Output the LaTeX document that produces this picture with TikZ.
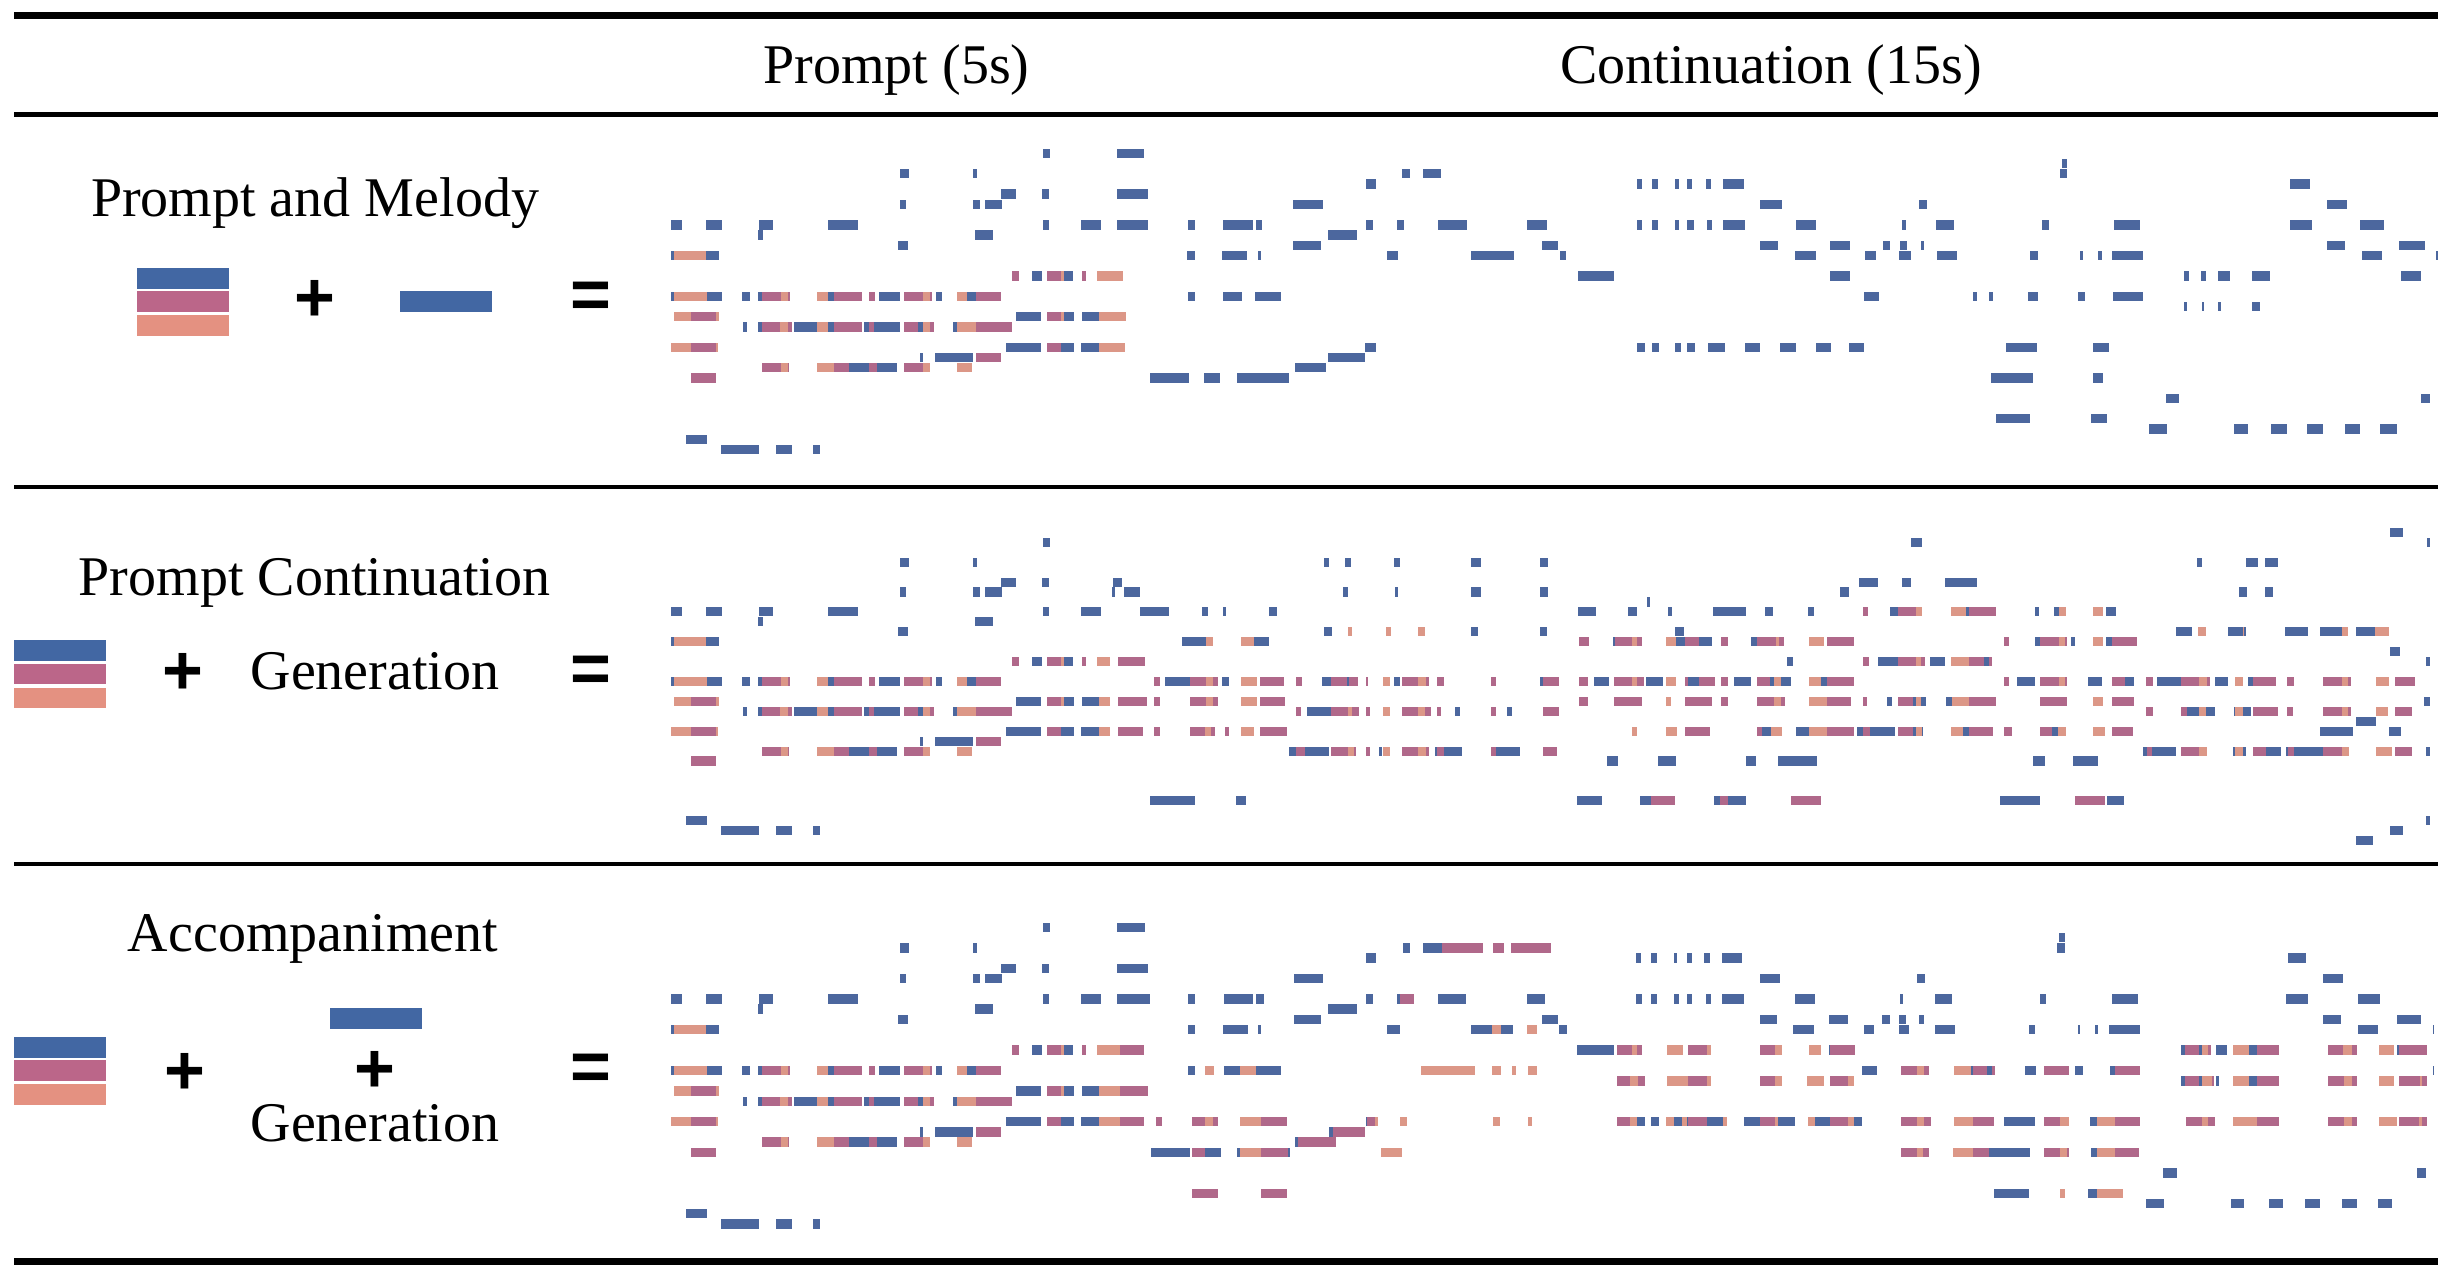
\documentclass[tikz,border=0pt]{standalone}
\usepackage{fontspec}
\setmainfont{Liberation Serif}
\newfontfamily\signfont{Liberation Sans}
\usepackage{tikz}

\definecolor{rollblue}{HTML}{4C679E}
\definecolor{rollmag}{HTML}{B0688A}
\definecolor{rollsal}{HTML}{DC9787}
\definecolor{keyblue}{HTML}{4267A3}
\definecolor{keymag}{HTML}{BB6689}
\definecolor{keysal}{HTML}{E49181}

\tikzset{
  nb/.style={fill=rollblue},
  nm/.style={fill=rollmag},
  ns/.style={fill=rollsal},
  lbl/.style={inner sep=0pt, anchor=base, font=\fontsize{56}{60}\selectfont},
  sign/.style={inner sep=0pt, font=\signfont\bfseries\fontsize{70}{70}\selectfont},
}

% one piano-roll note per entry: start/end/pitch row
\newcommand{\pnotes}[2]{\foreach \a/\b/\k in {#2} {\fill[#1] (\a,\k-0.46) rectangle (\b,\k+0.46);}}

% the 5s prompt, the same in every row
\newcommand{\promptroll}{%
\pnotes{nb}{1002/1018/0, 627/652/2, 818/828/2, 892/931/4, 998/1016/4, 627/644/5, 818/835/5, 850/895/5,
 30/58/7, 119/161/7, 260/295/7, 440/518/7, 1002/1016/7, 1100/1153/7, 256/270/8, 822/871/8, 623/648/9,
 30/37/10, 119/154/10, 971/998/12, 1055/1078/12, 30/37/14, 122/161/14, 214/235/14, 256/267/14, 440/455/14,
 571/627/14, 722/737/14, 801/826/14, 931/995/16, 1055/1083/16, 1104/1147/16, 218/227/17, 256/267/17,
 351/409/17, 440/455/17, 532/546/17, 560/627/17, 673/688/17, 765/776/17, 903/995/19, 1048/1083/19,
 1100/1147/19, 680/687/20, 719/818/20, 493/546/21, 567/620/21, 69/122/28, 160/260/29, 302/344/29, 400/418/29}%
\pnotes{nm}{920/938/12, 1012/1048/12, 1104/1114/12, 267/316/14, 335/341/14, 455/528/14, 546/563/14,
 638/688/14, 706/712/14, 826/892/14, 80/147/16, 1012/1048/16, 267/313/17, 335/344/17, 455/528/17,
 546/560/17, 638/673/17, 706/715/17, 826/920/17, 80/147/19, 1012/1048/19, 826/892/20, 267/316/21,
 335/338/21, 455/493/21, 546/567/21, 638/688/21, 80/147/22}%
\pnotes{ns}{37/119/10, 1048/1055/12, 1143/1176/12, 37/122/14, 316/335/14, 411/440/14, 688/706/14,
 776/801/14, 37/80/16, 147/154/16, 1048/1055/16, 1147/1176/16, 313/335/17, 409/440/17, 688/706/17,
 776/826/17, 30/80/19, 147/151/19, 1147/1176/19, 316/335/21, 411/455/21, 688/706/21, 776/815/21}%
}

\begin{document}
\begin{tikzpicture}[x=1pt, y=-1pt]
\useasboundingbox (0,0) rectangle (2444,1278);
\fill[white] (0,0) rectangle (2444,1278);

% table rules
\draw[line width=7pt] (14,15.3) -- (2438,15.3);
\draw[line width=4.5pt] (14,114.5) -- (2438,114.5);
\draw[line width=4pt] (14,487) -- (2438,487);
\draw[line width=4pt] (14,864) -- (2438,864);
\draw[line width=7pt] (14,1261) -- (2438,1261);

% header
\node[lbl] (hdprompt) at (896.5,83) {Prompt (5s)};
\node[lbl] (hdcont) at (1771,83) {Continuation (15s)};

% row 1 labels
\node[lbl] (titleA) at (315,216) {Prompt and Melody};
\fill[keyblue] (137,268) rectangle (229,289);
\fill[keymag] (137,291) rectangle (229,312);
\fill[keysal] (137,315) rectangle (229,336);
\node[sign] (plusA) at (315,301) {+};
\fill[keyblue] (400,291) rectangle (492,312);
\node[sign] (eqA) at (591,300) {=};

% row 2 labels
\node[lbl] (titleB) at (314.5,595) {Prompt Continuation};
\fill[keyblue] (14,640) rectangle (106,661);
\fill[keymag] (14,664) rectangle (106,684);
\fill[keysal] (14,688) rectangle (106,708);
\node[sign] (plusB) at (183,674) {+};
\node[lbl] (genB) at (375,689) {Generation};
\node[sign] (eqB) at (591,674) {=};

% row 3 labels
\node[lbl] (titleC) at (313,951) {Accompaniment};
\fill[keyblue] (14,1037) rectangle (106,1058);
\fill[keymag] (14,1060) rectangle (106,1081);
\fill[keysal] (14,1084) rectangle (106,1105);
\node[sign] (plusC) at (185,1074) {+};
\fill[keyblue] (330,1008) rectangle (422,1029);
\node[sign] (plusD) at (375,1072) {+};
\node[lbl] (genC) at (375,1141) {Generation};
\node[sign] (eqC) at (591,1072) {=};

% row 1: prompt and melody
\begin{scope}[shift={(660,153.33)}, xscale=0.38265, yscale=10.21]
\promptroll
\pnotes{nb}{1193/1266/0, 1193/1274/4, 1193/1274/7, 1380/1397/7, 1471/1549/7, 1376/1397/10, 1468/1535/10,
 1380/1397/14, 1471/1521/14, 1281/1383/22, 1422/1464/22, 1507/1568/22}
\pnotes{ns}{1176/1210/12, 1176/1217/16, 1176/1214/19}
\end{scope}
\begin{scope}[shift={(1250,153.33)}, xscale=0.38265, yscale=10.21]
\pnotes{nb}{396/417/2, 453/498/2, 304/328/3, 1011/1025/3, 1050/1067/3, 1110/1120/3, 1141/1156/3, 1191/1205/3,
 1237/1290/3, 113/191/5, 1332/1389/5, 15/32/7, 304/321/7, 383/402/7, 491/566/7, 725/775/7, 1011/1025/7,
 1050/1067/7, 1110/1120/7, 1141/1159/7, 1195/1208/7, 1237/1294/7, 1428/1478/7, 205/280/8, 113/185/9,
 764/806/9, 1332/1381/9, 1517/1568/9, 22/28/10, 357/388/10, 577/689/10, 810/827/10, 1424/1478/10,
 856/950/12, 1517/1568/12, 14/82/14, 301/328/19, 1011/1031/19, 1050/1070/19, 1110/1127/19, 1141/1163/19,
 1198/1240/19, 1294/1332/19, 1386/1427/19, 1478/1519/19, 205/301/20, 117/198/21, 0/103/22}
\end{scope}
\begin{scope}[shift={(1840,153.33)}, xscale=0.3852, yscale=10.21]
\pnotes{nb}{575/588/1, 571/588/2, 1168/1220/3, 206/227/5, 1263/1315/5, 160/170/7, 248/297/7, 525/543/7,
 711/778/7, 1168/1224/7, 1350/1413/7, 111/131/9, 157/174/9, 209/219/9, 1263/1312/9, 1452/1519/9,
 66/93/10, 154/184/10, 252/304/10, 494/515/10, 624/631/10, 669/679/10, 705/786/10, 1355/1406/10,
 1547/1552/10, 894/907/12, 936/949/12, 982/1013/12, 1070/1115/12, 1456/1507/12, 62/100/14, 344/356/14,
 386/398/14, 487/515/14, 617/637/14, 708/786/14, 894/900/15, 940/946/15, 982/988/15, 1070/1090/15,
 23/62/19, 430/511/19, 656/697/19, 392/500/22, 656/684/22, 845/879/24, 1508/1532/24, 406/494/26,
 652/694/26, 803/848/27, 1024/1058/27, 1118/1160/27, 1213/1255/27, 1312/1350/27, 1403/1445/27}
\end{scope}

% row 2: prompt continuation
\begin{scope}[shift={(660,542.33)}, xscale=0.38265, yscale=9.94]
\promptroll
\pnotes{nb}{1184/1208/4, 1180/1190/5, 1212/1254/5, 1254/1331/7, 1416/1433/7, 1471/1478/7, 1363/1427/10,
 1553/1568/10, 1321/1385/14, 1468/1486/14, 1280/1398/26, 1504/1532/26}
\pnotes{nm}{1198/1268/12, 1290/1307/14, 1385/1427/14, 1444/1458/14, 1198/1272/16, 1290/1307/16, 1385/1427/16,
 1444/1458/16, 1198/1262/19, 1290/1307/19, 1385/1423/19, 1440/1450/19, 1476/1486/19}
\pnotes{ns}{1427/1444/10, 1518/1553/10, 1427/1444/14, 1518/1560/14, 1427/1444/16, 1518/1560/16,
 1423/1440/19, 1518/1553/19}
\end{scope}
\begin{scope}[shift={(1250,542.33)}, xscale=0.38265, yscale=9.94]
\pnotes{nb}{193/207/2, 249/264/2, 376/393/2, 577/604/2, 759/779/2, 243/256/5, 380/386/5, 577/604/5, 759/779/5,
 1543/1565/5, 1037/1046/6, 50/71/7, 858/903/7, 987/1011/7, 1093/1103/7, 1209/1296/7, 1346/1366/7,
 1458/1475/7, 193/214/9, 577/597/9, 759/776/9, 1110/1135/9, 10/50/10, 949/954/10, 1113/1138/10,
 1173/1207/10, 1310/1325/10, 1404/1419/12, 187/212/14, 254/258/14, 376/393/14, 759/766/14, 900/938/14,
 1036/1078/14, 1145/1173/14, 1265/1310/14, 1360/1370/14, 1388/1415/14, 1492/1507/14, 148/212/17,
 537/548/17, 671/685/17, 1338/1362/19, 1426/1462/19, 103/119/21, 145/207/21, 338/344/21, 484/489/21,
 506/555/21, 643/706/21, 934/962/22, 1065/1113/22, 1296/1323/22, 1381/1482/22, 854/920/26, 1019/1047/26,
 1212/1229/26, 1250/1296/26}
\pnotes{nm}{860/885/10, 954/998/10, 1012/1025/10, 1138/1173/10, 1230/1250/10, 1325/1375/10, 1383/1395/10,
 1507/1568/10, 25/88/14, 119/137/14, 212/254/14, 258/281/14, 302/309/14, 397/440/14, 460/467/14,
 489/506/14, 629/643/14, 766/808/14, 860/882/14, 952/998/14, 1012/1029/14, 1138/1145/14, 1173/1215/14,
 1230/1248/14, 1325/1360/14, 1507/1568/14, 25/92/16, 860/882/16, 952/1025/16, 1138/1208/16, 1230/1248/16,
 1325/1370/16, 1388/1397/16, 1507/1568/16, 119/134/17, 212/257/17, 267/285/17, 302/313/17, 397/440/17,
 456/474/17, 489/499/17, 629/643/17, 766/808/17, 25/96/19, 1138/1201/19, 1325/1338/19, 1507/1568/19,
 119/145/21, 212/257/21, 273/278/21, 302/313/21, 397/440/21, 460/467/21, 489/506/21, 629/643/21,
 766/801/21, 1047/1110/26, 1229/1250/26, 1415/1492/26}
\pnotes{ns}{257/267/9, 355/369/9, 440/457/9, 0/10/10, 998/1012/10, 1086/1113/10, 1375/1383/10, 1462/1500/10,
 0/17/14, 348/365/14, 440/460/14, 998/1012/14, 1086/1113/14, 1370/1388/14, 1462/1492/14, 0/17/16,
 1086/1099/16, 1370/1388/16, 1462/1507/16, 257/267/17, 348/365/17, 440/456/17, 0/10/19, 998/1012/19,
 1086/1117/19, 1362/1390/19, 1462/1507/19, 257/273/21, 348/365/21, 440/460/21}
\end{scope}
\begin{scope}[shift={(1840,542.33)}, xscale=0.3852, yscale=9.94]
\pnotes{nb}{1427/1461/-1, 185/213/0, 1524/1531/0, 928/941/2, 1053/1085/2, 1102/1137/2, 48/98/4, 160/185/4,
 272/356/4, 0/24/5, 1036/1057/5, 1102/1123/5, 129/150/7, 328/334/7, 505/516/7, 555/568/7, 691/716/7,
 872/914/9, 1008/1045/9, 1050/1053/9, 1154/1214/9, 1245/1302/9, 1339/1389/9, 505/520/10, 600/610/10,
 691/705/10, 1427/1454/11, 98/150/12, 234/272/12, 373/387/12, 1520/1531/12, 460/505/14, 645/680/14,
 740/764/14, 823/886/14, 973/1008/14, 1060/1071/14, 122/136/16, 189/196/16, 209/223/16, 276/290/16,
 1517/1531/16, 900/931/17, 949/973/17, 1022/1026/17, 1046/1067/17, 1340/1391/18, 43/60/19, 77/143/19,
 189/196/19, 213/216/19, 318/335/19, 550/565/19, 1245/1332/19, 1424/1457/19, 786/796/21, 810/871/21,
 1019/1025/21, 1046/1053/21, 1106/1144/21, 1158/1164/21, 1179/1255/21, 1520/1531/21, 502/533/22,
 604/669/22, 415/520/26, 694/736/26, 1520/1531/28, 1427/1461/29, 1340/1384/30}
\pnotes{nm}{60/73/7, 150/196/7, 334/404/7, 0/35/10, 426/439/10, 520/569/10, 583/589/10, 705/771/10, 60/76/12,
 150/196/12, 209/220/12, 334/373/12, 387/395/12, 0/35/14, 426/439/14, 520/569/14, 583/589/14, 705/740/14,
 795/813/14, 886/931/14, 952/960/14, 1071/1133/14, 1161/1179/14, 1255/1302/14, 1320/1326/14, 1440/1493/14,
 0/28/16, 60/70/16, 150/189/16, 335/405/16, 520/590/16, 705/764/16, 795/813/17, 886/900/17, 1071/1137/17,
 1161/1175/17, 1255/1302/17, 1320/1326/17, 1440/1486/17, 0/35/19, 60/77/19, 150/189/19, 335/397/19,
 426/447/19, 520/550/19, 705/760/19, 796/810/21, 886/931/21, 1071/1106/21, 1164/1179/21, 1255/1302/21,
 1440/1486/21, 610/687/26}
\pnotes{ns}{196/213/7, 289/328/7, 568/586/7, 656/684/7, 930/949/9, 1045/1050/9, 1302/1319/9, 1389/1426/9,
 569/583/10, 656/684/10, 196/209/12, 289/334/12, 569/583/14, 931/952/14, 1026/1046/14, 1302/1320/14,
 1391/1426/14, 196/209/16, 290/335/16, 656/684/16, 931/949/17, 1026/1046/17, 1302/1320/17, 1391/1423/17,
 196/213/19, 289/318/19, 565/586/19, 656/687/19, 931/952/21, 1025/1046/21, 1302/1321/21, 1391/1433/21}
\end{scope}

% row 3: accompaniment
\begin{scope}[shift={(660,927.33)}, xscale=0.38265, yscale=10.23]
\promptroll
\pnotes{nb}{1195/1268/0, 1195/1276/4, 1195/1280/7, 1381/1399/7, 1473/1550/7, 1381/1399/10, 1470/1537/10,
 1381/1399/14, 1473/1516/14, 1558/1568/14, 1283/1385/22, 1423/1466/22, 1509/1516/22}
\pnotes{nm}{1202/1265/12, 1202/1276/16, 1202/1266/19, 1295/1311/19, 1390/1423/19, 1445/1459/19,
 1389/1423/22, 1389/1459/26}
\pnotes{ns}{1176/1202/12, 1423/1448/14, 1516/1558/14, 1176/1202/16, 1176/1202/19, 1423/1445/19,
 1516/1568/19, 1516/1568/22}
\end{scope}
\begin{scope}[shift={(1250,927.33)}, xscale=0.38265, yscale=10.23]
\pnotes{nb}{399/417/2, 453/502/2, 304/328/3, 1008/1022/3, 1047/1064/3, 1107/1117/3, 1141/1156/3, 1187/1201/3,
 1233/1286/3, 115/191/5, 1332/1384/5, 15/37/7, 304/321/7, 385/392/7, 491/564/7, 723/772/7, 1008/1025/7,
 1047/1064/7, 1107/1120/7, 1141/1156/7, 1191/1205/7, 1233/1290/7, 1424/1476/7, 205/280/8, 115/185/9,
 762/804/9, 1332/1378/9, 1512/1564/9, 22/28/10, 357/392/10, 577/632/10, 656/688/10, 808/829/10,
 1420/1473/10, 855/951/12, 1512/1517/12, 15/82/14, 302/307/19, 1011/1032/19, 1047/1068/19, 1107/1128/19,
 1141/1145/19, 1194/1237/19, 1290/1332/19, 1381/1423/19, 1476/1516/19, 206/217/20, 118/125/21, 98/104/22}
\pnotes{nm}{502/610/2, 635/663/2, 681/786/2, 392/428/7, 959/998/12, 1011/1025/12, 1145/1194/12, 1332/1371/12,
 1517/1568/12, 959/994/15, 1015/1032/15, 1145/1194/15, 1332/1371/15, 1516/1565/15, 30/96/19, 307/326/19,
 959/994/19, 1145/1194/19, 1332/1371/19, 1516/1568/19, 217/300/20, 125/226/21, 30/98/22, 30/97/26}
\pnotes{ns}{632/656/10, 723/751/10, 998/1011/12, 1089/1131/12, 1194/1205/12, 1371/1390/12, 1460/1493/12,
 0/15/14, 446/589/14, 632/656/14, 684/695/14, 727/751/14, 994/1015/15, 1089/1145/15, 1194/1205/15,
 1371/1390/15, 1456/1501/15, 0/30/19, 326/335/19, 393/409/19, 635/652/19, 727/737/19, 994/1011/19,
 1086/1107/19, 1128/1141/19, 1237/1247/19, 1371/1381/19, 1459/1476/19, 0/30/22, 343/396/22}
\end{scope}
\begin{scope}[shift={(1840,927.33)}, xscale=0.3852, yscale=10.23]
\pnotes{nb}{568/584/1, 564/584/2, 1162/1210/3, 201/221/5, 1253/1305/5, 155/164/7, 246/291/7, 519/535/7,
 705/774/7, 1159/1214/7, 1344/1402/7, 0/22/9, 110/130/9, 152/171/9, 204/217/9, 1253/1301/9, 1445/1507/9,
 61/88/10, 152/179/10, 246/298/10, 491/507/10, 617/623/10, 662/671/10, 697/780/10, 1344/1396/10,
 1539/1543/10, 886/896/12, 931/939/12, 977/1004/12, 1063/1082/12, 1445/1451/12, 57/95/14, 341/344/14,
 382/394/14, 480/508/14, 609/630/14, 701/715/14, 1539/1543/14, 886/896/15, 931/939/15, 977/983/15,
 1063/1082/15, 36/57/19, 425/505/19, 649/666/19, 386/494/22, 652/666/22, 838/875/24, 1498/1521/24,
 400/491/26, 645/666/26, 795/840/27, 1015/1049/27, 1113/1151/27, 1208/1245/27, 1302/1341/27, 1396/1434/27}
\pnotes{nm}{0/40/12, 896/931/12, 955/962/12, 1082/1140/12, 1267/1306/12, 1329/1343/12, 1451/1525/12,
 159/201/14, 217/232/14, 344/382/14, 394/403/14, 529/595/14, 715/778/14, 0/22/15, 896/931/15, 966/970/15,
 1082/1140/15, 1267/1308/15, 1329/1343/15, 1452/1505/15, 1511/1525/15, 0/22/19, 159/201/19, 217/235/19,
 344/399/19, 529/571/19, 715/780/19, 897/939/19, 955/973/19, 1082/1140/19, 1267/1308/19, 1329/1343/19,
 1452/1502/19, 1511/1525/19, 159/201/22, 215/232/22, 344/386/22, 529/571/22, 589/595/22, 715/777/22}
\pnotes{ns}{939/955/12, 1019/1063/12, 1306/1329/12, 1400/1437/12, 201/217/14, 295/341/14, 22/36/15,
 939/966/15, 1019/1063/15, 1308/1329/15, 1400/1437/15, 1505/1511/15, 22/36/19, 201/217/19, 295/344/19,
 571/595/19, 666/715/19, 939/955/19, 1019/1082/19, 1308/1329/19, 1400/1445/19, 1502/1511/19,
 201/215/22, 292/344/22, 571/589/22, 666/715/22, 571/584/26, 666/735/26}
\end{scope}
\end{tikzpicture}
\end{document}
